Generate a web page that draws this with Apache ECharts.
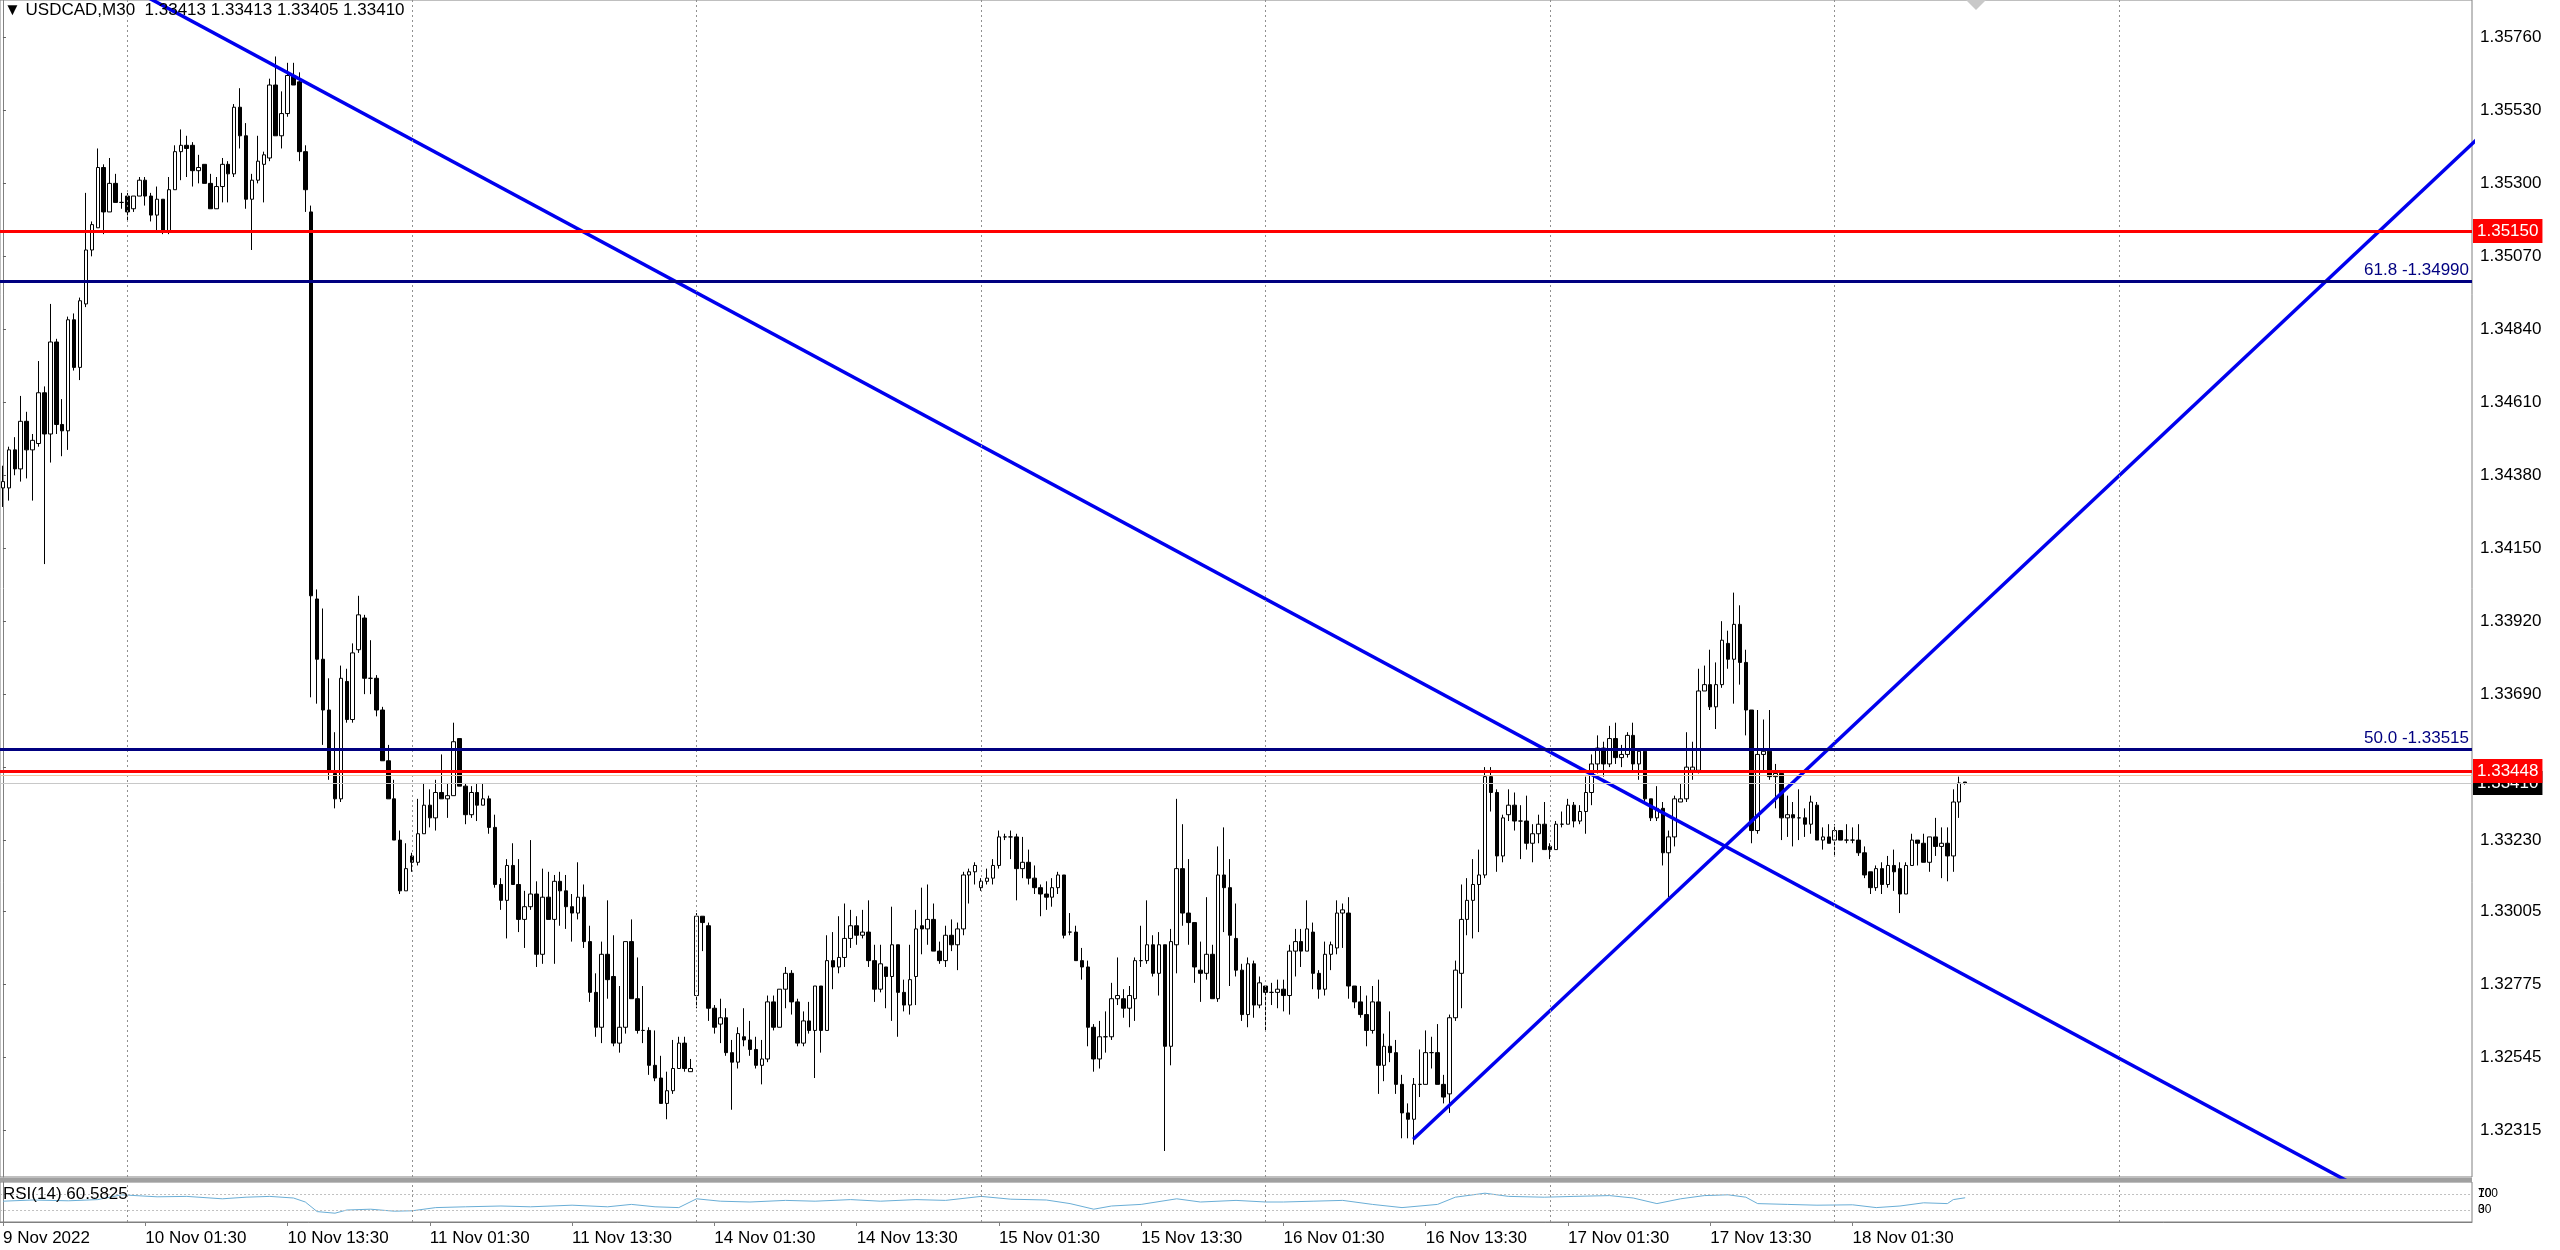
<!DOCTYPE html>
<html>
<head>
<meta charset="utf-8">
<title>USDCAD,M30</title>
<script src="https://cdn.jsdelivr.net/npm/echarts@6/dist/echarts.min.js"></script>
<style>
html, body { margin: 0; padding: 0; background: #fff; }
#chart { width: 2560px; height: 1250px; }
</style>
</head>
<body>
<div id="chart"></div>
<script>
// M30 bars, [open, close, low, high], first bar 9 Nov 13:30
const candles = [
  [1.3434,1.3436,1.3428,1.3441],[1.3434,1.3446,1.3430,1.3447],[1.3446,1.3440,1.3438,1.3450],[1.3440,1.3455,1.3436,1.3463],
  [1.3455,1.3446,1.3437,1.3458],[1.3446,1.3449,1.3430,1.3451],[1.3448,1.3464,1.3447,1.3474],[1.3464,1.3451,1.3410,1.3466],
  [1.3451,1.3480,1.3442,1.3492],[1.3480,1.3454,1.3451,1.3481],[1.3454,1.3452,1.3444,1.3462],[1.3452,1.3487,1.3446,1.3488],
  [1.3487,1.3472,1.3471,1.3489],[1.3472,1.3493,1.3468,1.3494],[1.3492,1.3509,1.3491,1.3527],[1.3509,1.3517,1.3507,1.3518],
  [1.3516,1.3535,1.3516,1.3541],[1.3535,1.3521,1.3514,1.3536],[1.3521,1.3530,1.3521,1.3538],[1.3530,1.3524,1.3524,1.3533],
  [1.3524,1.3524,1.3522,1.3527],[1.3526,1.3521,1.3518,1.3527],[1.3522,1.3526,1.3521,1.3526],[1.3526,1.3531,1.3526,1.3532],
  [1.3531,1.3526,1.3523,1.3532],[1.3526,1.3520,1.3518,1.3527],[1.3520,1.3525,1.3515,1.3529],[1.3525,1.3515,1.3514,1.3525],
  [1.3515,1.3528,1.3514,1.3532],[1.3528,1.3540,1.3528,1.3542],[1.3540,1.3542,1.3531,1.3547],[1.3542,1.3541,1.3532,1.3545],
  [1.3542,1.3534,1.3529,1.3543],[1.3534,1.3535,1.3530,1.3539],[1.3536,1.3530,1.3530,1.3536],[1.3530,1.3522,1.3522,1.3533],
  [1.3522,1.3529,1.3522,1.3532],[1.3529,1.3536,1.3524,1.3538],[1.3536,1.3533,1.3524,1.3537],[1.3533,1.3554,1.3532,1.3555],
  [1.3554,1.3545,1.3541,1.3560],[1.3545,1.3525,1.3522,1.3549],[1.3525,1.3531,1.3509,1.3533],[1.3531,1.3537,1.3530,1.3545],
  [1.3536,1.3539,1.3524,1.3540],[1.3538,1.3561,1.3537,1.3563],[1.3561,1.3545,1.3545,1.3570],[1.3545,1.3552,1.3541,1.3559],
  [1.3552,1.3564,1.3551,1.3568],[1.3564,1.3561,1.3561,1.3568],[1.3562,1.3540,1.3537,1.3565],[1.3540,1.3528,1.3521,1.3542],
  [1.3521,1.3400,1.3368,1.3523],[1.3399,1.3380,1.3366,1.3402],[1.3380,1.3364,1.3353,1.3396],[1.3364,1.3345,1.3342,1.3374],
  [1.3344,1.3336,1.3333,1.3357],[1.3336,1.3374,1.3335,1.3378],[1.3373,1.3361,1.3360,1.3377],[1.3361,1.3382,1.3360,1.3385],
  [1.3383,1.3394,1.3382,1.3400],[1.3393,1.3374,1.3369,1.3394],[1.3374,1.3374,1.3369,1.3386],[1.3374,1.3364,1.3362,1.3375],
  [1.3364,1.3348,1.3348,1.3365],[1.3348,1.3336,1.3336,1.3353],[1.3336,1.3323,1.3323,1.3342],[1.3323,1.3307,1.3306,1.3326],
  [1.3307,1.3314,1.3307,1.3322],[1.3318,1.3316,1.3313,1.3319],[1.3316,1.3325,1.3315,1.3336],[1.3325,1.3334,1.3325,1.3341],
  [1.3334,1.3330,1.3327,1.3339],[1.3330,1.3338,1.3326,1.3342],[1.3338,1.3336,1.3336,1.3350],[1.3336,1.3337,1.3330,1.3341],
  [1.3337,1.3354,1.3337,1.3360],[1.3355,1.3340,1.3340,1.3355],[1.3340,1.3331,1.3328,1.3341],[1.3331,1.3338,1.3330,1.3340],
  [1.3338,1.3334,1.3329,1.3341],[1.3334,1.3336,1.3334,1.3341],[1.3336,1.3327,1.3325,1.3337],[1.3327,1.3309,1.3308,1.3331],
  [1.3309,1.3304,1.3301,1.3311],[1.3304,1.3315,1.3292,1.3317],[1.3315,1.3309,1.3309,1.3322],[1.3309,1.3298,1.3294,1.3317],
  [1.3298,1.3302,1.3289,1.3307],[1.3302,1.3306,1.3301,1.3323],[1.3306,1.3287,1.3283,1.3310],[1.3287,1.3305,1.3284,1.3314],
  [1.3305,1.3298,1.3298,1.3313],[1.3298,1.3310,1.3284,1.3312],[1.3310,1.3307,1.3296,1.3313],[1.3307,1.3302,1.3295,1.3312],
  [1.3302,1.3300,1.3291,1.3306],[1.3300,1.3305,1.3298,1.3316],[1.3305,1.3291,1.3289,1.3309],[1.3291,1.3275,1.3272,1.3296],
  [1.3275,1.3264,1.3261,1.3281],[1.3264,1.3287,1.3259,1.3291],[1.3287,1.3279,1.3273,1.3304],[1.3280,1.3259,1.3258,1.3293],
  [1.3259,1.3264,1.3256,1.3277],[1.3264,1.3291,1.3262,1.3291],[1.3291,1.3273,1.3273,1.3298],[1.3273,1.3263,1.3262,1.3286],
  [1.3263,1.3263,1.3259,1.3277],[1.3263,1.3252,1.3249,1.3264],[1.3252,1.3248,1.3247,1.3263],[1.3248,1.3240,1.3240,1.3255],
  [1.3240,1.3244,1.3235,1.3250],[1.3244,1.3251,1.3243,1.3260],[1.3251,1.3259,1.3251,1.3261],[1.3259,1.3251,1.3250,1.3261],
  [1.3250,1.3251,1.3250,1.3254],[1.3274,1.3299,1.3270,1.3300],[1.3299,1.3297,1.3288,1.3299],[1.3296,1.3270,1.3266,1.3297],
  [1.3270,1.3264,1.3262,1.3271],[1.3265,1.3267,1.3259,1.3273],[1.3267,1.3256,1.3255,1.3270],[1.3256,1.3253,1.3238,1.3260],
  [1.3253,1.3262,1.3251,1.3264],[1.3261,1.3260,1.3258,1.3270],[1.3260,1.3257,1.3255,1.3266],[1.3257,1.3252,1.3251,1.3261],
  [1.3252,1.3254,1.3246,1.3260],[1.3254,1.3272,1.3253,1.3274],[1.3272,1.3264,1.3263,1.3274],[1.3264,1.3276,1.3264,1.3276],
  [1.3276,1.3281,1.3270,1.3283],[1.3281,1.3272,1.3268,1.3282],[1.3272,1.3259,1.3258,1.3273],[1.3259,1.3266,1.3258,1.3269],
  [1.3266,1.3263,1.3262,1.3272],[1.3263,1.3277,1.3248,1.3277],[1.3277,1.3263,1.3256,1.3277],[1.3263,1.3285,1.3263,1.3293],
  [1.3285,1.3283,1.3276,1.3294],[1.3283,1.3286,1.3281,1.3299],[1.3286,1.3292,1.3283,1.3303],[1.3292,1.3296,1.3289,1.3301],
  [1.3296,1.3293,1.3290,1.3299],[1.3293,1.3294,1.3292,1.3301],[1.3294,1.3285,1.3283,1.3304],[1.3285,1.3276,1.3272,1.3290],
  [1.3276,1.3284,1.3275,1.3290],[1.3283,1.3280,1.3270,1.3283],[1.3280,1.3290,1.3266,1.3302],[1.3290,1.3275,1.3261,1.3290],
  [1.3275,1.3271,1.3269,1.3279],[1.3271,1.3279,1.3268,1.3290],[1.3280,1.3295,1.3271,1.3301],[1.3296,1.3295,1.3287,1.3308],
  [1.3295,1.3298,1.3290,1.3309],[1.3298,1.3288,1.3288,1.3303],[1.3288,1.3285,1.3284,1.3291],[1.3285,1.3293,1.3283,1.3296],
  [1.3293,1.3290,1.3288,1.3298],[1.3290,1.3295,1.3282,1.3297],[1.3295,1.3312,1.3293,1.3313],[1.3312,1.3313,1.3303,1.3314],
  [1.3313,1.3315,1.3309,1.3316],[1.3308,1.3310,1.3307,1.3311],[1.3310,1.3311,1.3309,1.3314],[1.3311,1.3315,1.3309,1.3317],
  [1.3315,1.3324,1.3314,1.3326],[1.3324,1.3324,1.3323,1.3325],[1.3324,1.3324,1.3317,1.3326],[1.3324,1.3314,1.3304,1.3325],
  [1.3314,1.3316,1.3311,1.3324],[1.3316,1.3311,1.3309,1.3320],[1.3311,1.3308,1.3306,1.3315],[1.3308,1.3306,1.3299,1.3309],
  [1.3306,1.3305,1.3301,1.3310],[1.3305,1.3308,1.3302,1.3311],[1.3308,1.3312,1.3306,1.3313],[1.3312,1.3293,1.3292,1.3312],
  [1.3294,1.3294,1.3293,1.3300],[1.3294,1.3285,1.3285,1.3296],[1.3285,1.3283,1.3279,1.3289],[1.3283,1.3264,1.3258,1.3285],
  [1.3264,1.3254,1.3250,1.3265],[1.3254,1.3261,1.3251,1.3266],[1.3261,1.3261,1.3256,1.3269],[1.3261,1.3273,1.3260,1.3278],
  [1.3273,1.3274,1.3271,1.3286],[1.3273,1.3270,1.3267,1.3276],[1.3270,1.3274,1.3264,1.3277],[1.3273,1.3285,1.3266,1.3286],
  [1.3285,1.3285,1.3283,1.3296],[1.3285,1.3290,1.3284,1.3304],[1.3290,1.3281,1.3280,1.3293],[1.3281,1.3290,1.3274,1.3294],
  [1.3290,1.3258,1.3225,1.3290],[1.3258,1.3291,1.3252,1.3295],[1.3290,1.3314,1.3281,1.3336],[1.3314,1.3300,1.3296,1.3328],
  [1.3300,1.3297,1.3290,1.3317],[1.3297,1.3283,1.3278,1.3297],[1.3282,1.3281,1.3272,1.3291],[1.3281,1.3287,1.3279,1.3305],
  [1.3287,1.3273,1.3273,1.3290],[1.3273,1.3312,1.3272,1.3321],[1.3312,1.3308,1.3294,1.3327],[1.3308,1.3293,1.3277,1.3317],
  [1.3292,1.3282,1.3280,1.3303],[1.3282,1.3268,1.3266,1.3284],[1.3268,1.3284,1.3264,1.3286],[1.3284,1.3271,1.3267,1.3285],
  [1.3271,1.3278,1.3270,1.3280],[1.3277,1.3275,1.3263,1.3277],[1.3275,1.3275,1.3271,1.3278],[1.3275,1.3276,1.3270,1.3279],
  [1.3276,1.3274,1.3269,1.3279],[1.3274,1.3288,1.3268,1.3290],[1.3288,1.3291,1.3280,1.3295],[1.3291,1.3288,1.3283,1.3295],
  [1.3288,1.3295,1.3288,1.3304],[1.3294,1.3281,1.3276,1.3297],[1.3281,1.3276,1.3273,1.3282],[1.3276,1.3287,1.3274,1.3291],
  [1.3287,1.3290,1.3282,1.3291],[1.3289,1.3300,1.3287,1.3304],[1.3300,1.3301,1.3289,1.3303],[1.3300,1.3277,1.3273,1.3305],
  [1.3277,1.3272,1.3270,1.3277],[1.3272,1.3268,1.3267,1.3277],[1.3268,1.3263,1.3258,1.3274],[1.3263,1.3272,1.3262,1.3277],
  [1.3272,1.3252,1.3243,1.3279],[1.3252,1.3258,1.3247,1.3262],[1.3258,1.3256,1.3253,1.3269],[1.3256,1.3246,1.3243,1.3260],
  [1.3246,1.3237,1.3229,1.3249],[1.3237,1.3235,1.3229,1.3240],[1.3235,1.3246,1.3227,1.3248],[1.3246,1.3246,1.3242,1.3257],
  [1.3246,1.3256,1.3246,1.3263],[1.3256,1.3256,1.3251,1.3261],[1.3256,1.3246,1.3246,1.3265],[1.3246,1.3242,1.3240,1.3249],
  [1.3243,1.3267,1.3237,1.3268],[1.3267,1.3282,1.3266,1.3285],[1.3281,1.3298,1.3270,1.3309],[1.3298,1.3304,1.3293,1.3311],
  [1.3304,1.3309,1.3292,1.3317],[1.3309,1.3312,1.3294,1.3320],[1.3312,1.3343,1.3311,1.3346],[1.3343,1.3338,1.3332,1.3346],
  [1.3338,1.3318,1.3313,1.3339],[1.3318,1.3330,1.3316,1.3331],[1.3331,1.3334,1.3329,1.3339],[1.3334,1.3329,1.3326,1.3338],
  [1.3329,1.3329,1.3317,1.3334],[1.3329,1.3322,1.3320,1.3337],[1.3322,1.3325,1.3316,1.3328],[1.3325,1.3328,1.3322,1.3331],
  [1.3328,1.3320,1.3320,1.3335],[1.3321,1.3320,1.3317,1.3322],[1.3320,1.3328,1.3320,1.3329],[1.3328,1.3328,1.3327,1.3332],
  [1.3328,1.3334,1.3328,1.3336],[1.3334,1.3329,1.3327,1.3335],[1.3329,1.3332,1.3328,1.3334],[1.3332,1.3338,1.3325,1.3343],
  [1.3338,1.3347,1.3334,1.3350],[1.3347,1.3352,1.3344,1.3356],[1.3352,1.3347,1.3343,1.3354],[1.3347,1.3355,1.3346,1.3359],
  [1.3355,1.3349,1.3347,1.3360],[1.3349,1.3350,1.3346,1.3353],[1.3350,1.3356,1.3349,1.3357],[1.3356,1.3347,1.3345,1.3360],
  [1.3347,1.3351,1.3342,1.3352],[1.3351,1.3336,1.3335,1.3352],[1.3336,1.3330,1.3329,1.3336],[1.3330,1.3333,1.3329,1.3340],
  [1.3333,1.3319,1.3315,1.3335],[1.3319,1.3324,1.3305,1.3326],[1.3324,1.3336,1.3321,1.3337],[1.3335,1.3336,1.3335,1.3341],
  [1.3336,1.3346,1.3335,1.3357],[1.3345,1.3346,1.3342,1.3354],[1.3345,1.3370,1.3344,1.3377],[1.3370,1.3372,1.3370,1.3378],
  [1.3372,1.3365,1.3364,1.3383],[1.3365,1.3372,1.3358,1.3379],[1.3372,1.3386,1.3371,1.3392],[1.3385,1.3380,1.3377,1.3389],
  [1.3380,1.3391,1.3366,1.3401],[1.3391,1.3379,1.3372,1.3397],[1.3379,1.3364,1.3356,1.3383],[1.3364,1.3326,1.3322,1.3364],
  [1.3326,1.3350,1.3325,1.3364],[1.3350,1.3351,1.3345,1.3361],[1.3351,1.3343,1.3342,1.3364],[1.3343,1.3344,1.3333,1.3347],
  [1.3344,1.3330,1.3323,1.3344],[1.3330,1.3331,1.3324,1.3337],[1.3331,1.3330,1.3321,1.3335],[1.3330,1.3330,1.3323,1.3339],
  [1.3330,1.3328,1.3324,1.3333],[1.3328,1.3335,1.3325,1.3337],[1.3334,1.3323,1.3323,1.3335],[1.3323,1.3324,1.3320,1.3327],
  [1.3324,1.3322,1.3322,1.3328],[1.3323,1.3326,1.3318,1.3328],[1.3326,1.3323,1.3323,1.3326],[1.3323,1.3323,1.3322,1.3328],
  [1.3323,1.3323,1.3322,1.3327],[1.3323,1.3319,1.3318,1.3328],[1.3319,1.3312,1.3311,1.3321],[1.3313,1.3308,1.3306,1.3313],
  [1.3308,1.3314,1.3307,1.3315],[1.3314,1.3309,1.3306,1.3316],[1.3309,1.3315,1.3308,1.3318],[1.3315,1.3313,1.3307,1.3320],
  [1.3314,1.3306,1.3300,1.3316],[1.3306,1.3315,1.3306,1.3316],[1.3315,1.3323,1.3315,1.3325],[1.3323,1.3322,1.3315,1.3323],
  [1.3322,1.3316,1.3316,1.3325],[1.3316,1.3324,1.3313,1.3324],[1.3324,1.3321,1.3318,1.3330],[1.3321,1.3322,1.3311,1.3327],
  [1.3322,1.3318,1.3310,1.3327],[1.3318,1.3335,1.3313,1.3339],[1.3335,1.3341,1.3330,1.3343],[1.33413,1.33410,1.33405,1.33413]
];

const slotCount = 417; // bar slots across the window, incl. the empty right margin
const timeTickIdx = [0, 24, 48, 72, 96, 120, 144, 168, 192, 216, 240, 264, 288, 312];
const timeTickText = ['9 Nov 2022', '10 Nov 01:30', '10 Nov 13:30', '11 Nov 01:30', '11 Nov 13:30',
  '14 Nov 01:30', '14 Nov 13:30', '15 Nov 01:30', '15 Nov 13:30', '16 Nov 01:30', '16 Nov 13:30',
  '17 Nov 01:30', '17 Nov 13:30', '18 Nov 01:30'];
const dayLineIdx = [21, 69, 117, 165, 213, 261, 309, 357];
const priceTicks = [1.35760, 1.35530, 1.35300, 1.35070, 1.34840, 1.34610, 1.34380, 1.34150,
  1.33920, 1.33690, 1.33460, 1.33230, 1.33005, 1.32775, 1.32545, 1.32315];
const priceMin = 1.32168;
const priceMax = 1.35878;

const redLevels = [1.35150, 1.33448];
const fiboValues = [1.34990, 1.33515];
const fiboNames = ['61.8', '50.0'];
const bidPrice = 1.33410;
const tanLevel = 1.33434;

// trend lines, two anchor points each: [bar index, price]
const trendDown = [[49.4, 1.35635], [393.9, 1.32171]];
const trendUp = [[237.9, 1.32287], [335.2, 1.33996]];

// RSI(14) read at a subset of bars
const rsiIdx = [0, 5, 11, 16, 20, 26, 31, 37, 41, 45, 49, 51, 53, 56, 58, 62, 66, 69, 73, 78, 84, 89, 96, 102, 106,
  110, 114, 117, 121, 126, 132, 137, 143, 148, 154, 159, 165, 170, 176, 180, 184, 187, 192, 198, 202, 208, 213,
  216, 221, 226, 231, 236, 242, 245, 250, 254, 260, 265, 271, 275, 279, 283, 287, 291, 294, 296, 301, 306, 312,
  316, 320, 324, 328, 329, 331];
const rsiVal = [52, 55, 53, 56, 68, 63, 64, 58, 62, 64, 60, 50, 26, 22, 30, 32, 27, 28, 36, 38, 40, 38, 42, 38, 44,
  38, 36, 58, 52, 50, 54, 52, 56, 52, 56, 54, 64, 57, 55, 46, 32, 40, 44, 58, 50, 54, 50,
  50, 52, 54, 44, 36, 44, 62, 72, 64, 62, 64, 66, 60, 46, 58, 66, 68, 62, 46, 44, 42, 43,
  36, 40, 48, 46, 56, 60.5825];
const rsiLevels = [70, 30];

const FONT = "'Liberation Sans', Arial, sans-serif";

// RSI sub-window geometry (px)
const rsiTop = 1182;
const rsiHeight = 40;

function rayPoints(line, x0, x1) {
  const [p, q] = line;
  const k = (q[1] - p[1]) / (q[0] - p[0]);
  return [[x0, p[1] + k * (x0 - p[0])], [x1, p[1] + k * (x1 - p[0])]];
}

const chart = echarts.init(document.getElementById('chart'));

const priceLineData = [];
priceLineData.push({
  yAxis: tanLevel, lineStyle: { color: '#f0c4a4', width: 1, type: 'solid' }, label: { show: false }
});
priceLineData.push({
  yAxis: bidPrice, lineStyle: { color: '#c8c8c8', width: 1, type: 'solid' },
  label: {
    show: true, position: 'end', distance: 1, formatter: bidPrice.toFixed(5),
    backgroundColor: '#000', color: '#fff', padding: [4, 4, 3, 4], fontSize: 17, fontFamily: FONT
  }
});
fiboValues.forEach((v, k) => {
  priceLineData.push({
    yAxis: v, lineStyle: { color: '#000080', width: 3, type: 'solid' },
    label: {
      show: true, position: 'insideEndTop', distance: 3, formatter: fiboNames[k] + ' -' + v.toFixed(5),
      color: '#000080', fontSize: 17, fontFamily: FONT
    }
  });
});
redLevels.forEach(v => {
  priceLineData.push({
    yAxis: v, lineStyle: { color: '#ff0000', width: 3, type: 'solid' },
    label: {
      show: true, position: 'end', distance: 1, formatter: v.toFixed(5),
      backgroundColor: '#ff0000', color: '#fff', padding: [4, 4, 3, 4], fontSize: 17, fontFamily: FONT
    }
  });
});

// MT4 squeezes the 100 / 0 scale labels onto the 70 / 30 ones in a short sub-window
const rsiEdgeLabels = [['100', 70], ['0', 30]].map(([txt, at]) => ({
  type: 'text', silent: true, z: 10,
  x: 2478, y: rsiTop + rsiHeight * (1 - at / 100),
  style: { text: txt, fill: '#000', font: '12px ' + FONT, textAlign: 'left', textVerticalAlign: 'middle' }
}));

const option = {
  animation: false,
  backgroundColor: '#fff',
  textStyle: { fontFamily: FONT },
  title: [
    {
      text: '\u25BC USDCAD,M30  1.33413 1.33413 1.33405 1.33410',
      left: 4, top: 2, padding: 0,
      textStyle: { fontSize: 17, fontWeight: 'normal', color: '#000', fontFamily: FONT }
    },
    {
      text: 'RSI(14) 60.5825',
      left: 3, top: 1186, padding: 0,
      textStyle: { fontSize: 17, fontWeight: 'normal', color: '#000', fontFamily: FONT }
    }
  ],
  grid: [
    { left: 0, right: 88, top: 0, height: 1177, show: true, borderColor: '#808080', borderWidth: 1 },
    { left: 0, right: 88, top: rsiTop, height: rsiHeight, show: true, borderColor: '#808080', borderWidth: 1 }
  ],
  graphic: [
    { type: 'rect', shape: { x: 0, y: 1178, width: 2472, height: 4 }, style: { fill: '#a0a0a0' }, silent: true },
    { type: 'polygon', shape: { points: [[1966, 0], [1986, 0], [1976, 10]] }, style: { fill: '#c8c8c8' }, silent: true }
  ].concat(rsiEdgeLabels),
  xAxis: [
    {
      type: 'category', gridIndex: 0, show: false, boundaryGap: true,
      data: Array.from({ length: slotCount }, (_, i) => String(i))
    },
    { type: 'value', gridIndex: 0, show: false, min: -0.5, max: slotCount - 0.5 },
    {
      type: 'value', gridIndex: 1, min: -0.5, max: slotCount - 0.5,
      axisLine: { show: true, lineStyle: { color: '#808080' } },
      axisTick: { show: true, customValues: timeTickIdx, length: 4, lineStyle: { color: '#808080' } },
      axisLabel: {
        show: true, customValues: timeTickIdx, align: 'left', margin: 8,
        fontSize: 17, color: '#000', fontFamily: FONT,
        formatter: v => timeTickText[timeTickIdx.indexOf(Math.round(v))] || ''
      },
      splitLine: { show: false }
    }
  ],
  yAxis: [
    {
      type: 'value', gridIndex: 0, position: 'right', min: priceMin, max: priceMax, scale: true,
      axisLine: { show: true, lineStyle: { color: '#808080' } },
      axisTick: { show: true, customValues: priceTicks, length: 3, lineStyle: { color: '#606060' } },
      axisLabel: {
        show: true, customValues: priceTicks, margin: 8, fontSize: 17, color: '#000', fontFamily: FONT,
        formatter: v => v.toFixed(5)
      },
      splitLine: { show: false }
    },
    {
      type: 'value', gridIndex: 1, position: 'right', min: 0, max: 100,
      axisLine: { show: true, lineStyle: { color: '#808080' } },
      axisTick: { show: false },
      axisLabel: {
        show: true, customValues: rsiLevels, margin: 6, fontSize: 12, color: '#000', fontFamily: FONT
      },
      splitLine: { show: false }
    }
  ],
  series: [
    {
      type: 'candlestick', xAxisIndex: 0, yAxisIndex: 0,
      data: candles, barWidth: 4,
      itemStyle: { color: '#ffffff', color0: '#000000', borderColor: '#000000', borderColor0: '#000000', borderWidth: 1 },
      z: 3
    },
    {
      type: 'line', xAxisIndex: 1, yAxisIndex: 0,
      data: rayPoints(trendDown, -5, 430), symbol: 'none', clip: true,
      lineStyle: { color: '#0000ee', width: 3.5 }, z: 4,
      markLine: {
        silent: true, symbol: ['none', 'none'], animation: false, precision: 6,
        label: { show: false },
        lineStyle: { color: '#909090', width: 1, type: [2, 3] },
        data: dayLineIdx.map(v => ({ xAxis: v }))
      }
    },
    {
      type: 'line', xAxisIndex: 1, yAxisIndex: 0,
      data: rayPoints(trendUp, trendUp[0][0], 430), symbol: 'none', clip: true,
      lineStyle: { color: '#0000ee', width: 3.5 }, z: 4,
      markLine: {
        silent: true, symbol: ['none', 'none'], animation: false, precision: 6,
        data: priceLineData
      }
    },
    {
      type: 'line', xAxisIndex: 2, yAxisIndex: 1,
      data: rsiIdx.map((x, k) => [x, rsiVal[k]]), symbol: 'none',
      lineStyle: { color: '#6aaed6', width: 1 },
      markLine: {
        silent: true, symbol: ['none', 'none'], animation: false, precision: 6,
        label: { show: false },
        data: rsiLevels.map(v => ({ yAxis: v, lineStyle: { color: '#c0c0c0', width: 1, type: [2, 2] } }))
          .concat(dayLineIdx.map(v => ({ xAxis: v, lineStyle: { color: '#909090', width: 1, type: [2, 3] } })))
      }
    }
  ]
};

chart.setOption(option);
</script>
</body>
</html>
